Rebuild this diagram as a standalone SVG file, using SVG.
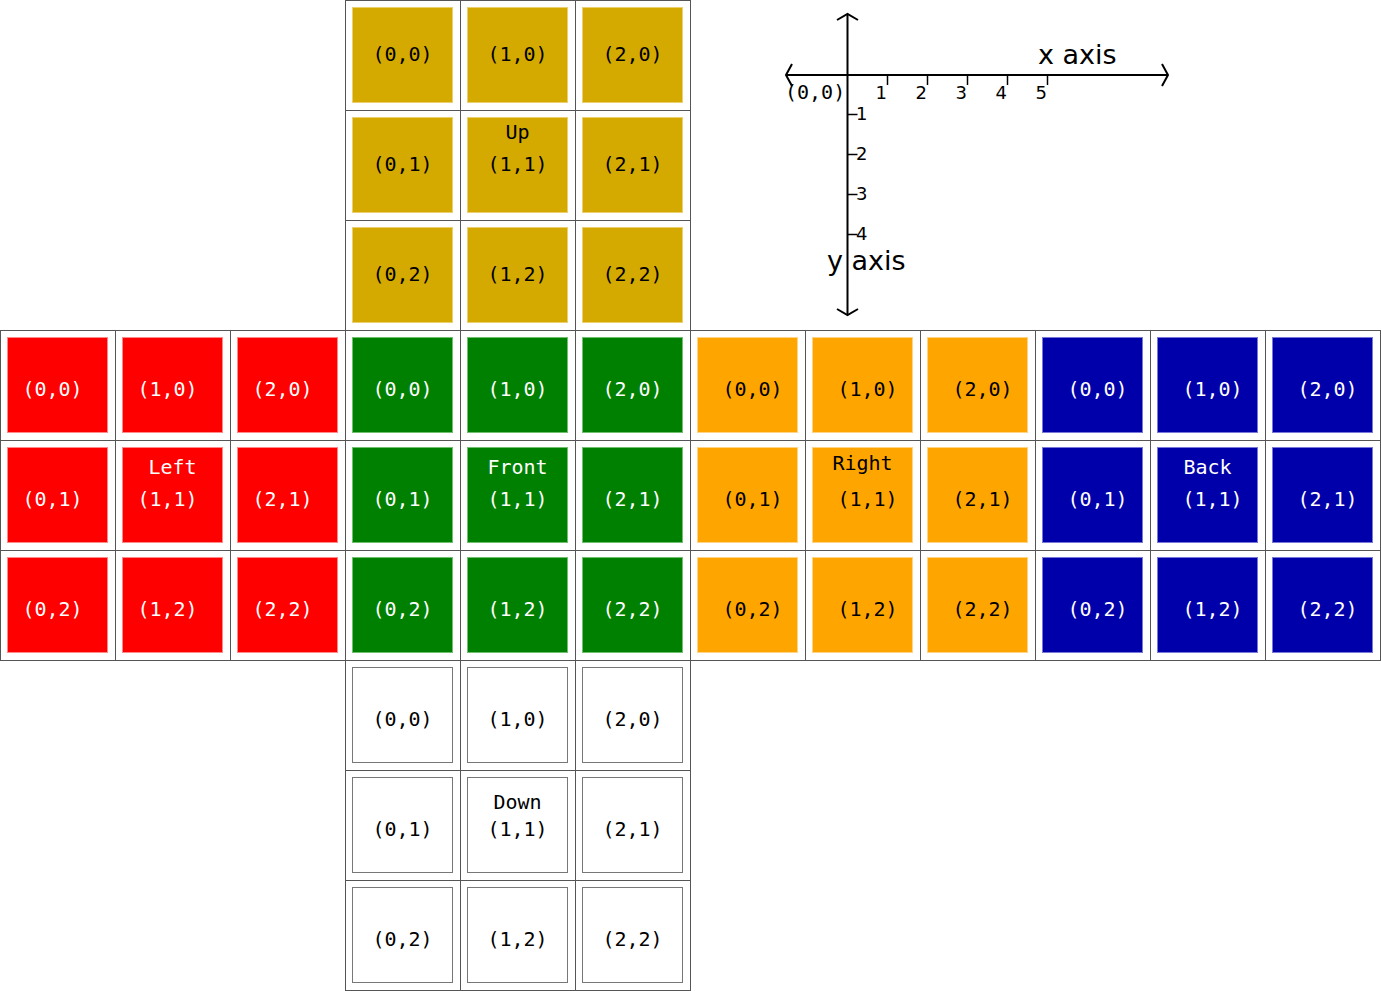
<svg xmlns="http://www.w3.org/2000/svg" width="1381" height="991" viewBox="0 0 1381 991">
<style>
.cell{fill:none;stroke:#555;stroke-width:1}
.t{font-family:"DejaVu Sans Mono","Liberation Mono",monospace;font-size:20px;text-anchor:middle}
.up rect.s{fill:#d4aa00;stroke:#ecd070}
.up text{fill:#000}
.left rect.s{fill:#ff0000;stroke:#ff8a8a}
.left text{fill:#fff}
.front rect.s{fill:#008000;stroke:#70c070}
.front text{fill:#fff}
.right rect.s{fill:#ffa500;stroke:#ffd488}
.right text{fill:#000}
.back rect.s{fill:#0000aa;stroke:#7878d8}
.back text{fill:#fff}
.down rect.s{fill:#fff;stroke:#777}
.down text{fill:#000}
.ax{stroke:#000;stroke-width:2;fill:none}
.tk{stroke:#000;stroke-width:1.5}
.n{font-family:"DejaVu Sans","Liberation Sans",sans-serif;font-size:18px;fill:#000}
.lbl{font-family:"DejaVu Sans","Liberation Sans",sans-serif;font-size:27px;fill:#000}
</style>
<rect width="1381" height="991" fill="#fff"/>

<g id="up" class="up">
<g id="up-0-0"><rect class="cell" x="345.5" y="0.5" width="115" height="110"/><rect class="s" x="352.5" y="7.5" width="100" height="95"/><text class="t" x="402.5" y="61">(0,0)</text></g>
<g id="up-1-0"><rect class="cell" x="460.5" y="0.5" width="115" height="110"/><rect class="s" x="467.5" y="7.5" width="100" height="95"/><text class="t" x="517.5" y="61">(1,0)</text></g>
<g id="up-2-0"><rect class="cell" x="575.5" y="0.5" width="115" height="110"/><rect class="s" x="582.5" y="7.5" width="100" height="95"/><text class="t" x="632.5" y="61">(2,0)</text></g>
<g id="up-0-1"><rect class="cell" x="345.5" y="110.5" width="115" height="110"/><rect class="s" x="352.5" y="117.5" width="100" height="95"/><text class="t" x="402.5" y="171">(0,1)</text></g>
<g id="up-1-1"><rect class="cell" x="460.5" y="110.5" width="115" height="110"/><rect class="s" x="467.5" y="117.5" width="100" height="95"/><text class="t" x="517.5" y="139">Up</text><text class="t" x="517.5" y="171">(1,1)</text></g>
<g id="up-2-1"><rect class="cell" x="575.5" y="110.5" width="115" height="110"/><rect class="s" x="582.5" y="117.5" width="100" height="95"/><text class="t" x="632.5" y="171">(2,1)</text></g>
<g id="up-0-2"><rect class="cell" x="345.5" y="220.5" width="115" height="110"/><rect class="s" x="352.5" y="227.5" width="100" height="95"/><text class="t" x="402.5" y="281">(0,2)</text></g>
<g id="up-1-2"><rect class="cell" x="460.5" y="220.5" width="115" height="110"/><rect class="s" x="467.5" y="227.5" width="100" height="95"/><text class="t" x="517.5" y="281">(1,2)</text></g>
<g id="up-2-2"><rect class="cell" x="575.5" y="220.5" width="115" height="110"/><rect class="s" x="582.5" y="227.5" width="100" height="95"/><text class="t" x="632.5" y="281">(2,2)</text></g>
</g>

<g id="left" class="left">
<g id="left-0-0"><rect class="cell" x="0.5" y="330.5" width="115" height="110"/><rect class="s" x="7.5" y="337.5" width="100" height="95"/><text class="t" x="52.5" y="396">(0,0)</text></g>
<g id="left-1-0"><rect class="cell" x="115.5" y="330.5" width="115" height="110"/><rect class="s" x="122.5" y="337.5" width="100" height="95"/><text class="t" x="167.5" y="396">(1,0)</text></g>
<g id="left-2-0"><rect class="cell" x="230.5" y="330.5" width="115" height="110"/><rect class="s" x="237.5" y="337.5" width="100" height="95"/><text class="t" x="282.5" y="396">(2,0)</text></g>
<g id="left-0-1"><rect class="cell" x="0.5" y="440.5" width="115" height="110"/><rect class="s" x="7.5" y="447.5" width="100" height="95"/><text class="t" x="52.5" y="506">(0,1)</text></g>
<g id="left-1-1"><rect class="cell" x="115.5" y="440.5" width="115" height="110"/><rect class="s" x="122.5" y="447.5" width="100" height="95"/><text class="t" x="172.5" y="474">Left</text><text class="t" x="167.5" y="506">(1,1)</text></g>
<g id="left-2-1"><rect class="cell" x="230.5" y="440.5" width="115" height="110"/><rect class="s" x="237.5" y="447.5" width="100" height="95"/><text class="t" x="282.5" y="506">(2,1)</text></g>
<g id="left-0-2"><rect class="cell" x="0.5" y="550.5" width="115" height="110"/><rect class="s" x="7.5" y="557.5" width="100" height="95"/><text class="t" x="52.5" y="616">(0,2)</text></g>
<g id="left-1-2"><rect class="cell" x="115.5" y="550.5" width="115" height="110"/><rect class="s" x="122.5" y="557.5" width="100" height="95"/><text class="t" x="167.5" y="616">(1,2)</text></g>
<g id="left-2-2"><rect class="cell" x="230.5" y="550.5" width="115" height="110"/><rect class="s" x="237.5" y="557.5" width="100" height="95"/><text class="t" x="282.5" y="616">(2,2)</text></g>
</g>

<g id="front" class="front">
<g id="front-0-0"><rect class="cell" x="345.5" y="330.5" width="115" height="110"/><rect class="s" x="352.5" y="337.5" width="100" height="95"/><text class="t" x="402.5" y="396">(0,0)</text></g>
<g id="front-1-0"><rect class="cell" x="460.5" y="330.5" width="115" height="110"/><rect class="s" x="467.5" y="337.5" width="100" height="95"/><text class="t" x="517.5" y="396">(1,0)</text></g>
<g id="front-2-0"><rect class="cell" x="575.5" y="330.5" width="115" height="110"/><rect class="s" x="582.5" y="337.5" width="100" height="95"/><text class="t" x="632.5" y="396">(2,0)</text></g>
<g id="front-0-1"><rect class="cell" x="345.5" y="440.5" width="115" height="110"/><rect class="s" x="352.5" y="447.5" width="100" height="95"/><text class="t" x="402.5" y="506">(0,1)</text></g>
<g id="front-1-1"><rect class="cell" x="460.5" y="440.5" width="115" height="110"/><rect class="s" x="467.5" y="447.5" width="100" height="95"/><text class="t" x="517.5" y="474">Front</text><text class="t" x="517.5" y="506">(1,1)</text></g>
<g id="front-2-1"><rect class="cell" x="575.5" y="440.5" width="115" height="110"/><rect class="s" x="582.5" y="447.5" width="100" height="95"/><text class="t" x="632.5" y="506">(2,1)</text></g>
<g id="front-0-2"><rect class="cell" x="345.5" y="550.5" width="115" height="110"/><rect class="s" x="352.5" y="557.5" width="100" height="95"/><text class="t" x="402.5" y="616">(0,2)</text></g>
<g id="front-1-2"><rect class="cell" x="460.5" y="550.5" width="115" height="110"/><rect class="s" x="467.5" y="557.5" width="100" height="95"/><text class="t" x="517.5" y="616">(1,2)</text></g>
<g id="front-2-2"><rect class="cell" x="575.5" y="550.5" width="115" height="110"/><rect class="s" x="582.5" y="557.5" width="100" height="95"/><text class="t" x="632.5" y="616">(2,2)</text></g>
</g>

<g id="right" class="right">
<g id="right-0-0"><rect class="cell" x="690.5" y="330.5" width="115" height="110"/><rect class="s" x="697.5" y="337.5" width="100" height="95"/><text class="t" x="752.5" y="396">(0,0)</text></g>
<g id="right-1-0"><rect class="cell" x="805.5" y="330.5" width="115" height="110"/><rect class="s" x="812.5" y="337.5" width="100" height="95"/><text class="t" x="867.5" y="396">(1,0)</text></g>
<g id="right-2-0"><rect class="cell" x="920.5" y="330.5" width="115" height="110"/><rect class="s" x="927.5" y="337.5" width="100" height="95"/><text class="t" x="982.5" y="396">(2,0)</text></g>
<g id="right-0-1"><rect class="cell" x="690.5" y="440.5" width="115" height="110"/><rect class="s" x="697.5" y="447.5" width="100" height="95"/><text class="t" x="752.5" y="506">(0,1)</text></g>
<g id="right-1-1"><rect class="cell" x="805.5" y="440.5" width="115" height="110"/><rect class="s" x="812.5" y="447.5" width="100" height="95"/><text class="t" x="862.5" y="470">Right</text><text class="t" x="867.5" y="506">(1,1)</text></g>
<g id="right-2-1"><rect class="cell" x="920.5" y="440.5" width="115" height="110"/><rect class="s" x="927.5" y="447.5" width="100" height="95"/><text class="t" x="982.5" y="506">(2,1)</text></g>
<g id="right-0-2"><rect class="cell" x="690.5" y="550.5" width="115" height="110"/><rect class="s" x="697.5" y="557.5" width="100" height="95"/><text class="t" x="752.5" y="616">(0,2)</text></g>
<g id="right-1-2"><rect class="cell" x="805.5" y="550.5" width="115" height="110"/><rect class="s" x="812.5" y="557.5" width="100" height="95"/><text class="t" x="867.5" y="616">(1,2)</text></g>
<g id="right-2-2"><rect class="cell" x="920.5" y="550.5" width="115" height="110"/><rect class="s" x="927.5" y="557.5" width="100" height="95"/><text class="t" x="982.5" y="616">(2,2)</text></g>
</g>

<g id="back" class="back">
<g id="back-0-0"><rect class="cell" x="1035.5" y="330.5" width="115" height="110"/><rect class="s" x="1042.5" y="337.5" width="100" height="95"/><text class="t" x="1097.5" y="396">(0,0)</text></g>
<g id="back-1-0"><rect class="cell" x="1150.5" y="330.5" width="115" height="110"/><rect class="s" x="1157.5" y="337.5" width="100" height="95"/><text class="t" x="1212.5" y="396">(1,0)</text></g>
<g id="back-2-0"><rect class="cell" x="1265.5" y="330.5" width="115" height="110"/><rect class="s" x="1272.5" y="337.5" width="100" height="95"/><text class="t" x="1327.5" y="396">(2,0)</text></g>
<g id="back-0-1"><rect class="cell" x="1035.5" y="440.5" width="115" height="110"/><rect class="s" x="1042.5" y="447.5" width="100" height="95"/><text class="t" x="1097.5" y="506">(0,1)</text></g>
<g id="back-1-1"><rect class="cell" x="1150.5" y="440.5" width="115" height="110"/><rect class="s" x="1157.5" y="447.5" width="100" height="95"/><text class="t" x="1207.5" y="474">Back</text><text class="t" x="1212.5" y="506">(1,1)</text></g>
<g id="back-2-1"><rect class="cell" x="1265.5" y="440.5" width="115" height="110"/><rect class="s" x="1272.5" y="447.5" width="100" height="95"/><text class="t" x="1327.5" y="506">(2,1)</text></g>
<g id="back-0-2"><rect class="cell" x="1035.5" y="550.5" width="115" height="110"/><rect class="s" x="1042.5" y="557.5" width="100" height="95"/><text class="t" x="1097.5" y="616">(0,2)</text></g>
<g id="back-1-2"><rect class="cell" x="1150.5" y="550.5" width="115" height="110"/><rect class="s" x="1157.5" y="557.5" width="100" height="95"/><text class="t" x="1212.5" y="616">(1,2)</text></g>
<g id="back-2-2"><rect class="cell" x="1265.5" y="550.5" width="115" height="110"/><rect class="s" x="1272.5" y="557.5" width="100" height="95"/><text class="t" x="1327.5" y="616">(2,2)</text></g>
</g>

<g id="down" class="down">
<g id="down-0-0"><rect class="cell" x="345.5" y="660.5" width="115" height="110"/><rect class="s" x="352.5" y="667.5" width="100" height="95"/><text class="t" x="402.5" y="726">(0,0)</text></g>
<g id="down-1-0"><rect class="cell" x="460.5" y="660.5" width="115" height="110"/><rect class="s" x="467.5" y="667.5" width="100" height="95"/><text class="t" x="517.5" y="726">(1,0)</text></g>
<g id="down-2-0"><rect class="cell" x="575.5" y="660.5" width="115" height="110"/><rect class="s" x="582.5" y="667.5" width="100" height="95"/><text class="t" x="632.5" y="726">(2,0)</text></g>
<g id="down-0-1"><rect class="cell" x="345.5" y="770.5" width="115" height="110"/><rect class="s" x="352.5" y="777.5" width="100" height="95"/><text class="t" x="402.5" y="836">(0,1)</text></g>
<g id="down-1-1"><rect class="cell" x="460.5" y="770.5" width="115" height="110"/><rect class="s" x="467.5" y="777.5" width="100" height="95"/><text class="t" x="517.5" y="809">Down</text><text class="t" x="517.5" y="836">(1,1)</text></g>
<g id="down-2-1"><rect class="cell" x="575.5" y="770.5" width="115" height="110"/><rect class="s" x="582.5" y="777.5" width="100" height="95"/><text class="t" x="632.5" y="836">(2,1)</text></g>
<g id="down-0-2"><rect class="cell" x="345.5" y="880.5" width="115" height="110"/><rect class="s" x="352.5" y="887.5" width="100" height="95"/><text class="t" x="402.5" y="946">(0,2)</text></g>
<g id="down-1-2"><rect class="cell" x="460.5" y="880.5" width="115" height="110"/><rect class="s" x="467.5" y="887.5" width="100" height="95"/><text class="t" x="517.5" y="946">(1,2)</text></g>
<g id="down-2-2"><rect class="cell" x="575.5" y="880.5" width="115" height="110"/><rect class="s" x="582.5" y="887.5" width="100" height="95"/><text class="t" x="632.5" y="946">(2,2)</text></g>
</g>

<g id="axes">
<line class="ax" x1="786" y1="75" x2="1168" y2="75"/>
<polyline class="ax" points="792,64 786,75 792,86"/>
<polyline class="ax" points="1162,64 1168,75 1162,86"/>
<line class="ax" x1="847.5" y1="14" x2="847.5" y2="315"/>
<polyline class="ax" points="837,20 847.5,14 858,20"/>
<polyline class="ax" points="837,309 847.5,315 858,309"/>
<line class="tk" x1="887.5" y1="75" x2="887.5" y2="85"/>
<line class="tk" x1="927.5" y1="75" x2="927.5" y2="85"/>
<line class="tk" x1="967.5" y1="75" x2="967.5" y2="85"/>
<line class="tk" x1="1007.5" y1="75" x2="1007.5" y2="85"/>
<line class="tk" x1="1047.5" y1="75" x2="1047.5" y2="85"/>
<line class="tk" x1="847.5" y1="114.5" x2="857.5" y2="114.5"/>
<line class="tk" x1="847.5" y1="154.5" x2="857.5" y2="154.5"/>
<line class="tk" x1="847.5" y1="194.5" x2="857.5" y2="194.5"/>
<line class="tk" x1="847.5" y1="234.5" x2="857.5" y2="234.5"/>
<text class="t" x="785" y="99" style="text-anchor:start">(0,0)</text>
<text class="n" x="887" y="99" text-anchor="end">1</text>
<text class="n" x="927" y="99" text-anchor="end">2</text>
<text class="n" x="967" y="99" text-anchor="end">3</text>
<text class="n" x="1007" y="99" text-anchor="end">4</text>
<text class="n" x="1047" y="99" text-anchor="end">5</text>
<text class="n" x="856" y="120">1</text>
<text class="n" x="856" y="160">2</text>
<text class="n" x="856" y="200">3</text>
<text class="n" x="856" y="240">4</text>
<text class="lbl" x="1038" y="64">x axis</text>
<text class="lbl" x="827" y="270">y axis</text>
</g>
</svg>
